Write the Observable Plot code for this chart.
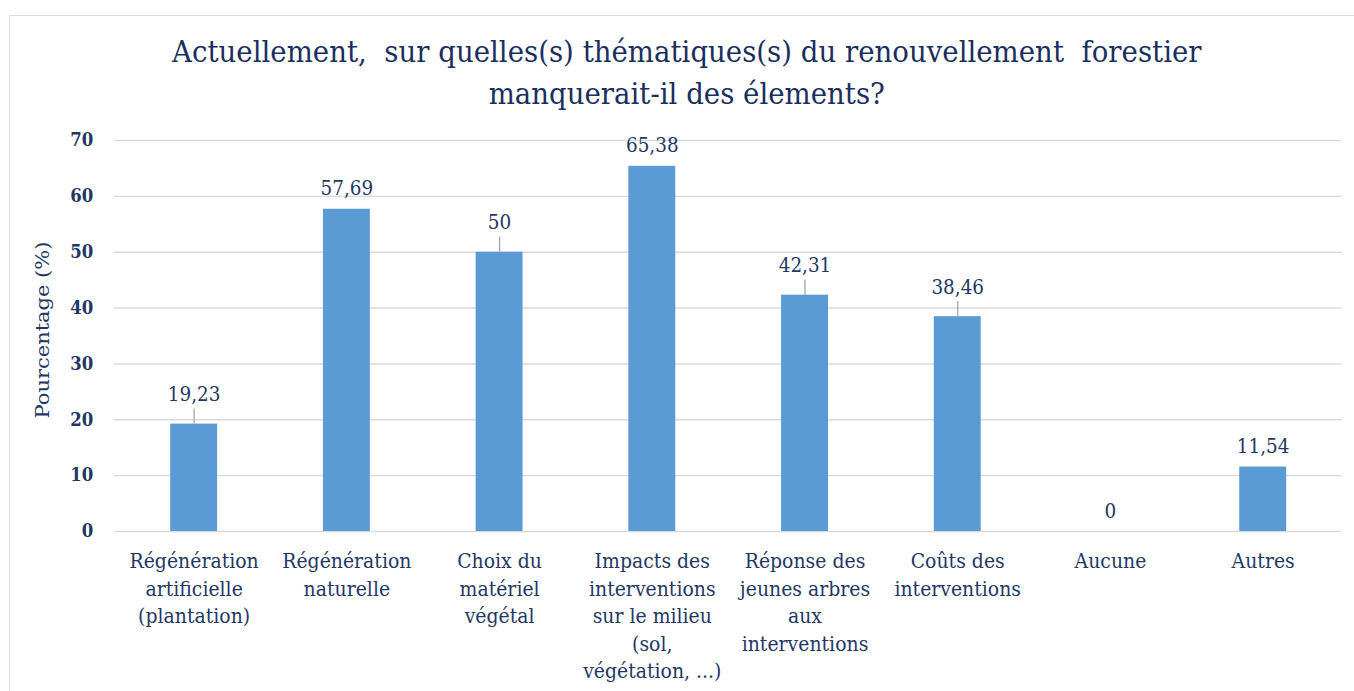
<!DOCTYPE html>
<html><head><meta charset="utf-8">
<script src="https://cdn.jsdelivr.net/npm/d3@7"></script>
<script src="https://cdn.jsdelivr.net/npm/@observablehq/plot@0.6"></script>
<style>
html,body{margin:0;padding:0;background:#fff;overflow:hidden;width:1354px;height:691px}
#wrap{position:absolute;left:0;top:0;width:1472px;height:691px;transform:scaleX(0.92);transform-origin:0 0}
#frame{position:absolute;left:9.8px;top:15px;width:1600px;height:800px;border:1.2px solid #d9d9d9;box-sizing:border-box}
#title{position:absolute;left:0;top:30.5px;width:1493px;text-align:center;font-family:"DejaVu Serif";font-size:30px;line-height:42px;color:#1a2f5e;white-space:pre}
#chart{position:absolute;left:0;top:0}
</style></head>
<body>
<div id="wrap">
  <div id="frame"></div>
  <div id="chart"></div>
  <div id="title"></div>
</div>
<script>
const titleLines = ["Actuellement,  sur quelles(s) thématiques(s) du renouvellement  forestier", "manquerait-il des élements?"];
const yLabel = "Pourcentage (%)";
const categories = [
  "Régénération\nartificielle\n(plantation)",
  "Régénération\nnaturelle",
  "Choix du\nmatériel\nvégétal",
  "Impacts des\ninterventions\nsur le milieu\n(sol,\nvégétation, ...)",
  "Réponse des\njeunes arbres\naux\ninterventions",
  "Coûts des\ninterventions",
  "Aucune",
  "Autres"
];
const values = [19.23, 57.69, 50, 65.38, 42.31, 38.46, 0, 11.54];
const yTicks = [0, 10, 20, 30, 40, 50, 60, 70];
const leaderCats = [categories[0], categories[2], categories[4], categories[5]];

const data = categories.map((c, i) => ({cat: c, value: values[i]}));
const fmt = v => String(v).replace(".", ",");
const navy = "#1f3864";

document.getElementById("title").textContent = titleLines.join("\n");

const chart = Plot.plot({
  width: 1472, height: 691,
  marginTop: 140, marginBottom: 160, marginLeft: 124, marginRight: 14,
  style: {background: "transparent", fontFamily: "DejaVu Serif", color: navy},
  x: {domain: categories, paddingInner: 0.694, paddingOuter: 0.347, axis: null},
  y: {domain: [0, 70], axis: null},
  marks: [
    Plot.ruleY(yTicks, {stroke: "#d9d9d9", strokeWidth: 1.4}),
    Plot.barY(data, {x: "cat", y: "value", fill: "#5b9bd5"}),
    Plot.text(yTicks, {frameAnchor: "left", y: d => d, text: d => String(d), textAnchor: "end", dx: -23,
      fontWeight: "bold", fontSize: 18, fill: navy}),
    Plot.text(categories, {x: d => d, frameAnchor: "bottom", text: d => d, lineAnchor: "top", dy: 17.5,
      fontSize: 20.5, lineHeight: 1.34, fill: navy}),
    Plot.ruleX(data, {filter: d => leaderCats.includes(d.cat), x: "cat", y1: d => d.value, y2: d => d.value + 2.7,
      stroke: "#a6a6a6", strokeWidth: 1.4}),
    Plot.text(data, {filter: d => leaderCats.includes(d.cat), x: "cat", y: "value", text: d => fmt(d.value),
      lineAnchor: "bottom", dy: -23, fontSize: 20, fill: navy}),
    Plot.text(data, {filter: d => !leaderCats.includes(d.cat), x: "cat", y: "value", text: d => fmt(d.value),
      lineAnchor: "bottom", dy: -14, fontSize: 20, fill: navy}),
    Plot.text([yLabel], {frameAnchor: "left", textAnchor: "middle", dx: -78, dy: -6, rotate: -90, text: d => d,
      fontSize: 21, fill: navy})
  ]
});
document.getElementById("chart").appendChild(chart);
</script>
</body></html>
